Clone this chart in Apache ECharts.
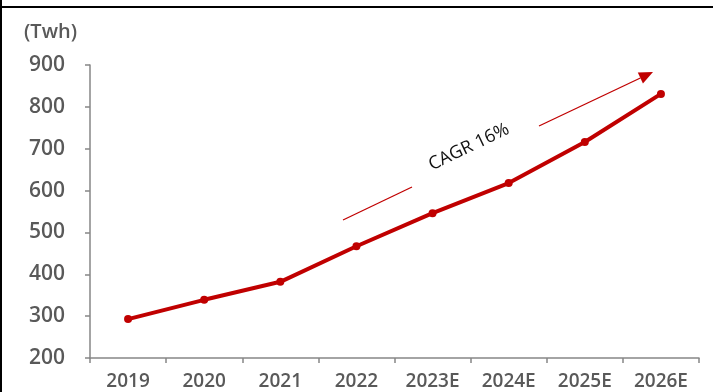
<!DOCTYPE html>
<html>
<head>
<meta charset="utf-8">
<script src="https://cdn.jsdelivr.net/npm/echarts@6/dist/echarts.min.js"></script>
<style>
  html, body { margin: 0; padding: 0; background: #fff; }
  #chart { width: 713px; height: 392px; }
</style>
</head>
<body>
<div id="chart"></div>
<script>
// Annual electricity demand (TWh), actuals and estimates
const categories = ['2019', '2020', '2021', '2022', '2023E', '2024E', '2025E', '2026E'];
const demand = [293, 339, 382, 467, 546, 618, 716, 831];
const unitLabel = '(Twh)';
const cagrLabel = 'CAGR 16%';

const red = '#C00000';
const grey = '#595959';
const axisGrey = '#868686';
const font = '"Open Sans", sans-serif';

const chart = echarts.init(document.getElementById('chart'), null, { renderer: 'canvas' });

// Trend arrow geometry (pixel space), split around the CAGR label
const arrowAngle = Math.atan2(220 - 72, 653 - 343);
const tip = [653, 72];
const headLen = 14, headHalf = 6;
const dx = Math.cos(arrowAngle), dy = -Math.sin(arrowAngle);
const base = [tip[0] - headLen * dx, tip[1] - headLen * dy];
const px = -dy, py = dx;

chart.setOption({
  animation: false,
  title: {
    text: unitLabel,
    left: 24, top: 22, padding: 0,
    textStyle: { fontFamily: font, fontSize: 20, fontWeight: 600, color: grey }
  },
  grid: { left: 90, right: 14, top: 65, bottom: 34 },
  xAxis: {
    type: 'category',
    data: categories,
    boundaryGap: true,
    axisLine: { lineStyle: { color: axisGrey, width: 1.5 } },
    axisTick: { show: true, length: 5, lineStyle: { color: axisGrey, width: 1.5 } },
    axisLabel: { margin: 14, fontFamily: font, fontSize: 19, fontWeight: 600, color: grey }
  },
  yAxis: {
    type: 'value',
    min: 200, max: 900, interval: 100,
    axisLine: { show: true, lineStyle: { color: axisGrey, width: 1.5 } },
    axisTick: { show: true, length: 5, lineStyle: { color: axisGrey, width: 1.5 } },
    splitLine: { show: false },
    axisLabel: { margin: 25, fontFamily: font, fontSize: 21, fontWeight: 600, color: grey }
  },
  series: [{
    type: 'line',
    data: demand,
    symbol: 'circle',
    symbolSize: 8,
    lineStyle: { color: red, width: 4 },
    itemStyle: { color: red }
  }],
  graphic: [
    // left border and top rule of the panel
    { type: 'rect', shape: { x: 0, y: 0, width: 2, height: 392 }, style: { fill: '#000' } },
    { type: 'rect', shape: { x: 0, y: 6, width: 713, height: 2 }, style: { fill: '#000' } },
    { type: 'line', shape: { x1: 343, y1: 220, x2: 412, y2: 187 }, style: { stroke: red, lineWidth: 1.3 } },
    { type: 'line', shape: { x1: 539, y1: 126, x2: base[0], y2: base[1] }, style: { stroke: red, lineWidth: 1.3 } },
    { type: 'polygon',
      shape: { points: [tip, [base[0] + headHalf * px, base[1] + headHalf * py], [base[0] - headHalf * px, base[1] - headHalf * py]] },
      style: { fill: red } },
    { type: 'text', x: 469, y: 147, rotation: arrowAngle,
      style: { text: cagrLabel, fontFamily: font, fontSize: 18, fill: '#111', align: 'center', verticalAlign: 'middle' } }
  ]
});
</script>
</body>
</html>
